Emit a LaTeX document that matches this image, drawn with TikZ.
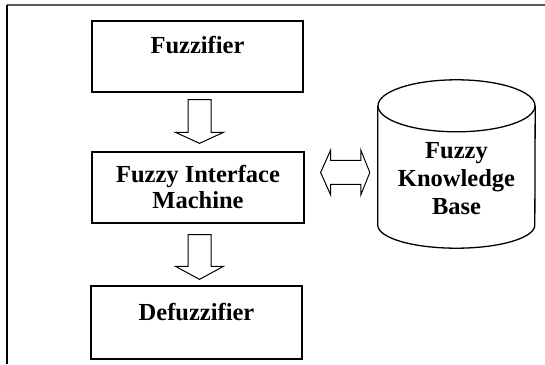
\documentclass[tikz,border=0pt]{standalone}
\usepackage{fontspec}
\setmainfont{Liberation Serif}
\usetikzlibrary{calc}
\begin{document}
\begin{tikzpicture}[x=1pt,y=1pt,
  box/.style={draw, line width=1.3pt, minimum width=211pt, minimum height=71pt, inner sep=0pt},
  lbl/.style={font=\fontsize{24.5}{25.5}\selectfont\bfseries, align=center, inner sep=0pt},
  blockarrow/.style={draw, line width=1pt, line join=miter}]
\useasboundingbox (0,0) rectangle (545,364);
% frame
\coordinate (ftl) at (7,359);
\coordinate (ftr) at (545,359);
\coordinate (fbl) at (7,0);
\draw[black!65, line width=1.2pt] (ftl) -- (ftr);
\draw[line width=1.6pt] (ftl) -- (fbl);
% boxes
\node[box] (fuzz) at (197.5,307.5) {};
\node[lbl, anchor=base] (fuzzt) at (197.5,310) {Fuzzifier};
\node[box, minimum width=212pt] (fim) at (198,176.5) {};
\node[lbl, anchor=base] (fimt) at (198,155.5) {Fuzzy Interface\\Machine};
\node[box, minimum height=73pt] (defuzz) at (196.5,41.5) {};
\node[lbl, anchor=base] (defuzzt) at (196.5,44) {Defuzzifier};
% cylinder
\node[minimum width=157pt, minimum height=119pt, inner sep=0pt] (kb) at (456.5,198.5) {};
\draw[line width=1.3pt] (kb.north west) -- (kb.south west)
  arc[start angle=180, end angle=360, x radius=78.5, y radius=23] -- (kb.north east);
\draw[line width=1.3pt] (kb.north) ellipse[x radius=78.5, y radius=26];
\node[lbl, anchor=base, font=\fontsize{24.5}{28}\selectfont\bfseries] (kbt) at (456.5,149.5) {Fuzzy\\Knowledge\\Base};
% block arrows
\coordinate (a1s) at ($(fuzz.south)+(2,-7)$);
\coordinate (a1e) at ($(fim.north)+(1.5,8)$);
\coordinate (a2s) at ($(fim.south)+(1.5,-11)$);
\coordinate (a2e) at ($(defuzz.north)+(3,6)$);
\draw[blockarrow] let \p1=(a1s), \p2=(a1e) in
  (\x1-11.5pt,\y1) -- (\x1+11.5pt,\y1) -- (\x1+11.5pt,\y2+11pt) -- (\x1+24pt,\y2+11pt)
  -- (\x1,\y2) -- (\x1-24pt,\y2+11pt) -- (\x1-11.5pt,\y2+11pt) -- cycle;
\draw[blockarrow] let \p1=(a2s), \p2=(a2e) in
  (\x1-11.5pt,\y1) -- (\x1+11.5pt,\y1) -- (\x1+11.5pt,\y2+13pt) -- (\x1+24pt,\y2+13pt)
  -- (\x1,\y2) -- (\x1-24pt,\y2+13pt) -- (\x1-11.5pt,\y2+13pt) -- cycle;
\coordinate (da1) at ($(fim.east)+(16,15)$);
\coordinate (da2) at ($(kb.west)+(-8,-7)$);
\draw[blockarrow] let \p1=(da1), \p2=(da2) in
  (\x1,\y1) -- (\x1+10pt,\y1+22.5pt) -- (\x1+10pt,\y1+12pt) -- (\x2-9pt,\y1+12pt)
  -- (\x2-9pt,\y1+22.5pt) -- (\x2,\y1) -- (\x2-9pt,\y1-22.5pt) -- (\x2-9pt,\y1-12pt)
  -- (\x1+10pt,\y1-12pt) -- (\x1+10pt,\y1-22.5pt) -- cycle;
\end{tikzpicture}
\end{document}
